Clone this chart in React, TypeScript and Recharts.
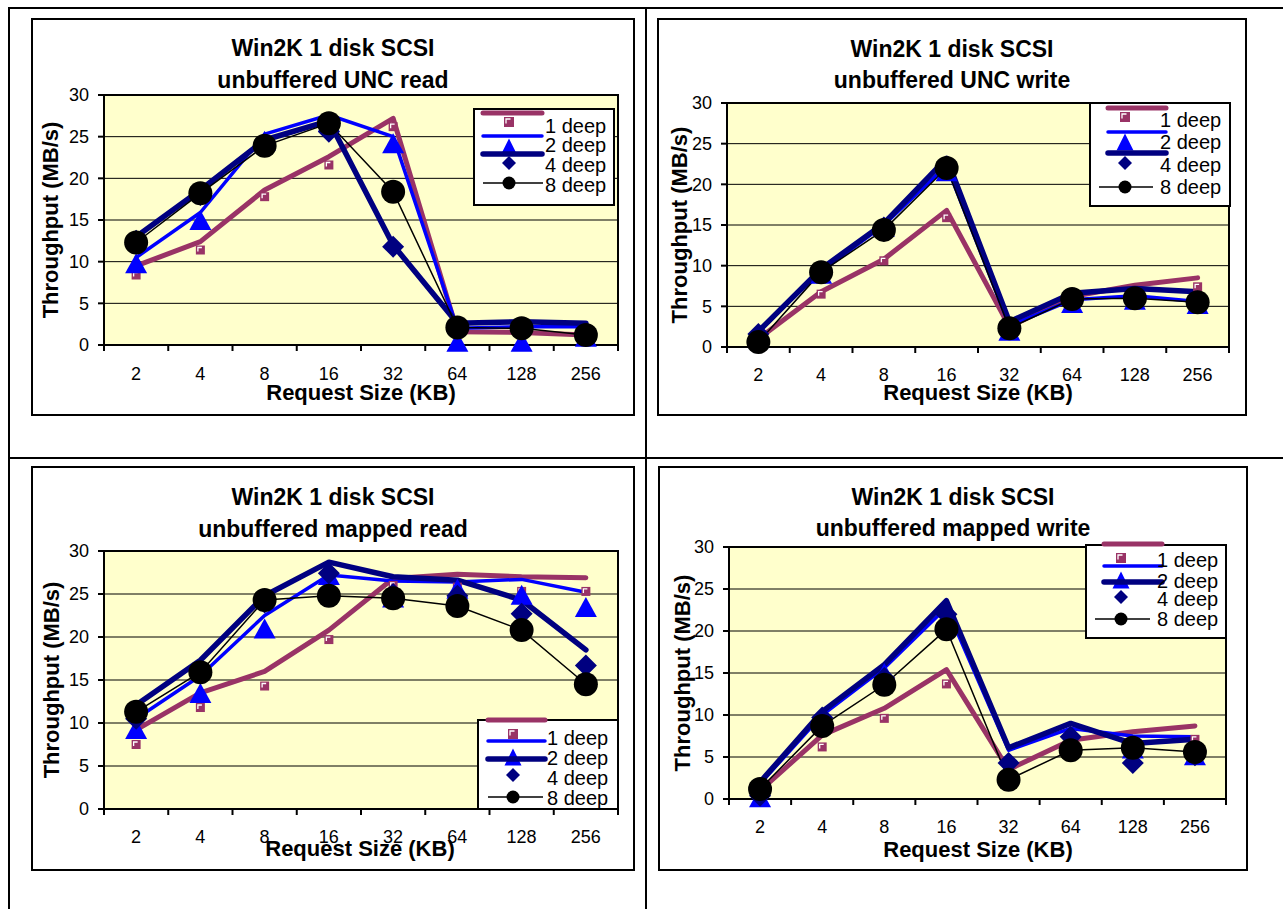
import React from 'react';
import { LineChart, Line, XAxis, YAxis, CartesianGrid } from 'recharts';

const FONT = 'Arial, "Liberation Sans", Helvetica, sans-serif';

const categories = ['2', '4', '8', '16', '32', '64', '128', '256'];
const yTicks = [0, 5, 10, 15, 20, 25, 30];
const seriesLabels = ['1 deep', '2 deep', '4 deep', '8 deep'];
const titleTop = 'Win2K 1 disk SCSI';
const xAxisTitle = 'Request Size (KB)';
const yAxisTitle = 'Throughput (MB/s)';

// unbuffered UNC read
const uncReadLine1 = [9.5, 12.4, 18.6, 22.6, 27.2, 1.6, 1.5, 1.2];
const uncReadMark1 = [8.4, 11.4, 17.8, 21.6, 26.2, 1.5, 1.4, 1.4];
const uncReadLine2 = [10.5, 15.9, 25.3, 27.6, 25.0, 2.0, 2.2, 2.2];
const uncReadMark2 = [9.8, 15.0, 24.5, 26.8, 24.2, 0.4, 0.4, 1.0];
const uncReadLine4 = [13.0, 18.6, 24.6, 26.9, 12.0, 2.6, 2.8, 2.6];
const uncReadMark4 = [12.5, 18.0, 24.0, 25.6, 11.8, 2.0, 2.0, 1.5];
const uncRead8 = [12.3, 18.2, 23.9, 26.6, 18.4, 2.1, 2.0, 1.2];

// unbuffered UNC write
const uncWriteLine1 = [1.0, 6.8, 10.8, 16.8, 2.5, 6.2, 7.6, 8.5];
const uncWriteMark1 = [0.5, 6.5, 10.6, 15.9, 2.0, 5.6, 6.0, 7.4];
const uncWriteLine2 = [2.0, 9.3, 15.0, 22.3, 2.6, 5.8, 6.3, 5.6];
const uncWriteMark2 = [1.6, 9.0, 14.8, 21.6, 2.0, 5.4, 5.8, 5.3];
const uncWriteLine4 = [1.9, 9.6, 15.2, 23.2, 3.1, 6.6, 7.2, 6.8];
const uncWriteMark4 = [1.6, 9.2, 14.7, 22.0, 2.3, 5.8, 6.0, 5.6];
const uncWrite8 = [0.6, 9.2, 14.4, 22.0, 2.3, 5.9, 6.0, 5.5];

// unbuffered mapped read
const mapReadLine1 = [9.2, 13.5, 16.0, 20.8, 26.8, 27.3, 27.0, 26.9];
const mapReadMark1 = [7.5, 11.8, 14.3, 19.7, 26.0, 25.8, 25.3, 25.3];
const mapReadLine2 = [10.5, 15.5, 22.5, 27.2, 26.5, 26.4, 26.7, 25.2];
const mapReadMark2 = [9.3, 13.5, 21.0, 27.2, 24.6, 25.6, 24.9, 23.5];
const mapReadLine4 = [12.1, 17.3, 24.8, 28.7, 27.0, 26.6, 24.3, 18.5];
const mapReadMark4 = [10.5, 16.0, 24.0, 27.4, 25.0, 24.8, 22.7, 16.7];
const mapRead8 = [11.3, 15.9, 24.3, 24.8, 24.5, 23.6, 20.8, 14.5];

// unbuffered mapped write
const mapWriteLine1 = [1.0, 7.6, 10.8, 15.4, 3.5, 7.0, 8.0, 8.7];
const mapWriteMark1 = [0.8, 6.2, 9.6, 13.7, 3.3, 6.2, 6.6, 7.1];
const mapWriteLine2 = [1.8, 10.0, 15.6, 22.8, 5.8, 8.4, 7.5, 7.4];
const mapWriteMark2 = [0.2, 9.3, 15.0, 21.5, 3.2, 6.6, 6.0, 5.2];
const mapWriteLine4 = [2.0, 10.4, 16.0, 23.6, 6.1, 9.0, 6.6, 7.1];
const mapWriteMark4 = [0.4, 9.7, 14.4, 22.0, 4.3, 7.4, 4.3, 5.2];
const mapWrite8 = [1.2, 8.7, 13.6, 20.2, 2.3, 5.8, 6.1, 5.6];

const MAROON = '#993366';
const BLUE = '#0000FF';
const NAVY = '#000080';
const BLACK = '#000000';
const PLOT_BG = '#FFFFCC';

const panels = [
  {
    id: 'ur', title2: 'unbuffered UNC read',
    l1: uncReadLine1, m1: uncReadMark1, l2: uncReadLine2, m2: uncReadMark2, l4: uncReadLine4, m4: uncReadMark4, v8: uncRead8,
    box: { x: 31, y: 18, w: 604, h: 398 },
    plot: { left: 104, right: 618, top: 95, bottom: 345 },
    titleX: 333, titleY: [56, 88], yTitle: { x: 50, y: 220 }, xTitle: { x: 361, y: 400 }, tickBase: 35,
    legend: { x: 474, y: 109, w: 140, h: 96, textX: 545, base: [133, 152, 172, 192], lineX: [483, 542], blackX: [483, 543], lineY: [113, 136, 154, 183], markX: 509, markY: [122, 147, 163, 183] },
  },
  {
    id: 'uw', title2: 'unbuffered UNC write',
    l1: uncWriteLine1, m1: uncWriteMark1, l2: uncWriteLine2, m2: uncWriteMark2, l4: uncWriteLine4, m4: uncWriteMark4, v8: uncWrite8,
    box: { x: 657, y: 18, w: 590, h: 398 },
    plot: { left: 727, right: 1229, top: 103, bottom: 347 },
    titleX: 952, titleY: [57, 88], yTitle: { x: 679, y: 225 }, xTitle: { x: 978, y: 400 }, tickBase: 34,
    legend: { x: 1090, y: 103, w: 140, h: 103, textX: 1160, base: [127, 149, 172, 194], lineX: [1108, 1166], blackX: [1099, 1153], lineY: [108, 132, 153, 187], markX: 1125, markY: [117, 142, 163, 187] },
  },
  {
    id: 'mr', title2: 'unbuffered mapped read',
    l1: mapReadLine1, m1: mapReadMark1, l2: mapReadLine2, m2: mapReadMark2, l4: mapReadLine4, m4: mapReadMark4, v8: mapRead8,
    box: { x: 31, y: 466, w: 604, h: 405 },
    plot: { left: 104, right: 618, top: 551, bottom: 809 },
    titleX: 333, titleY: [505, 537], yTitle: { x: 51, y: 680 }, xTitle: { x: 360, y: 856 }, tickBase: 34,
    legend: { x: 478, y: 720, w: 140, h: 89, textX: 547, base: [745, 765, 785, 805], lineX: [488, 545], blackX: [488, 543], lineY: [720, 741, 759, 797], markX: 513, markY: [734, 757, 775, 797] },
  },
  {
    id: 'mw', title2: 'unbuffered mapped write',
    l1: mapWriteLine1, m1: mapWriteMark1, l2: mapWriteLine2, m2: mapWriteMark2, l4: mapWriteLine4, m4: mapWriteMark4, v8: mapWrite8,
    box: { x: 658, y: 466, w: 590, h: 405 },
    plot: { left: 729, right: 1226, top: 547, bottom: 799 },
    titleX: 953, titleY: [505, 536], yTitle: { x: 682, y: 673 }, xTitle: { x: 978, y: 857 }, tickBase: 34,
    legend: { x: 1086, y: 545, w: 140, h: 93, textX: 1157, base: [567, 588, 606, 626], lineX: [1104, 1162], blackX: [1095, 1150], lineY: [544, 566, 582, 619], markX: 1121, markY: [558, 580, 597, 619] },
  },
];

function Marker({ kind, cx, cy, legend }: any) {
  if (kind === 'square') {
    const s = legend ? 5 : 4.5;
    return (
      <g>
        <rect x={cx - s} y={cy - s} width={2 * s} height={2 * s} fill={MAROON} />
        <path d={`M${cx - s + 2},${cy + 1.5} V${cy - s + 2} H${cx + 1.5}`} stroke="#fff" strokeWidth={1.3} fill="none" />
      </g>
    );
  }
  if (kind === 'triangle') {
    const hw = legend ? 8.5 : 11;
    const h = legend ? 17 : 20;
    return <polygon points={`${cx},${cy - h / 2} ${cx + hw},${cy + h / 2} ${cx - hw},${cy + h / 2}`} fill={BLUE} />;
  }
  if (kind === 'diamond') {
    const d = legend ? 7 : 11;
    return <polygon points={`${cx},${cy - d} ${cx + d},${cy} ${cx},${cy + d} ${cx - d},${cy}`} fill={NAVY} />;
  }
  const r = legend ? 6.5 : 12;
  return <circle cx={cx} cy={cy} r={r} fill={BLACK} />;
}

const dotRenderer = (kind: string) => (props: any) => {
  const { cx, cy, index } = props;
  if (cx == null || cy == null || Number.isNaN(cx) || Number.isNaN(cy)) return <g key={`e-${kind}-${index}`} />;
  return (
    <g key={`${kind}-${index}`}>
      <Marker kind={kind} cx={cx} cy={cy} />
    </g>
  );
};

function Panel({ p }: any) {
  const { box, plot } = p;
  const rows = categories.map((c, i) => ({
    cat: c, l1: p.l1[i], m1: p.m1[i], l2: p.l2[i], m2: p.m2[i], l4: p.l4[i], m4: p.m4[i], v8: p.v8[i],
  }));
  const plotW = plot.right - plot.left;
  const pad = plotW / 16;
  const cell = plotW / categories.length;
  const margin = { top: plot.top - box.y, right: box.x + box.w - plot.right, left: 0, bottom: 0 };
  const yAxisW = plot.left - box.x;
  const xAxisH = box.y + box.h - plot.bottom;
  const axisY = plot.bottom - box.y;
  const xTick = (props: any) => {
    const { x, payload, index } = props;
    const half = cell / 2;
    return (
      <g>
        <line x1={x - half} x2={x - half} y1={axisY} y2={axisY + 6} stroke="#000" strokeWidth={2} />
        {index === categories.length - 1 ? (
          <line x1={x + half} x2={x + half} y1={axisY} y2={axisY + 6} stroke="#000" strokeWidth={2} />
        ) : null}
        <text x={x} y={axisY + p.tickBase} textAnchor="middle" fontSize={18} fontFamily={FONT} fill="#000">
          {payload.value}
        </text>
      </g>
    );
  };
  const common = { isAnimationActive: false, activeDot: false, type: 'linear' as const, legendType: 'none' as const };
  return (
    <div style={{ position: 'absolute', left: box.x, top: box.y, width: box.w, height: box.h }}>
      <LineChart width={box.w} height={box.h} data={rows} margin={margin}>
        <CartesianGrid vertical={false} stroke="#000" strokeWidth={1} fill={PLOT_BG} fillOpacity={1} />
        <XAxis
          dataKey="cat" scale="point" padding={{ left: pad, right: pad }} height={xAxisH} interval={0}
          tickLine={false} tickSize={0} tickMargin={0} axisLine={{ stroke: '#000', strokeWidth: 2 }} tick={xTick}
        />
        <YAxis
          domain={[0, 30]} ticks={yTicks} interval={0} width={yAxisW} tickSize={6} tickMargin={9}
          tickLine={{ stroke: '#000', strokeWidth: 2 }} axisLine={{ stroke: '#000', strokeWidth: 2 }}
          tick={{ fill: '#000', fontSize: 18, fontFamily: FONT }}
        />
        <Line {...common} dataKey="l1" stroke={MAROON} strokeWidth={5} dot={false} strokeLinejoin="round" strokeLinecap="round" />
        <Line {...common} dataKey="m1" stroke="none" dot={dotRenderer('square')} />
        <Line {...common} dataKey="l2" stroke={BLUE} strokeWidth={3.5} dot={false} strokeLinejoin="round" strokeLinecap="round" />
        <Line {...common} dataKey="m2" stroke="none" dot={dotRenderer('triangle')} />
        <Line {...common} dataKey="l4" stroke={NAVY} strokeWidth={5.5} dot={false} strokeLinejoin="round" strokeLinecap="round" />
        <Line {...common} dataKey="m4" stroke="none" dot={dotRenderer('diamond')} />
        <Line {...common} dataKey="v8" stroke={BLACK} strokeWidth={1.5} dot={dotRenderer('circle')} />
      </LineChart>
    </div>
  );
}

function LegendBox({ lg }: any) {
  const colors = [MAROON, BLUE, NAVY, BLACK];
  const widths = [5, 3.5, 5.5, 1.5];
  const kinds = ['square', 'triangle', 'diamond', 'circle'];
  return (
    <g>
      <rect x={lg.x} y={lg.y} width={lg.w} height={lg.h} fill="#fff" stroke="#000" strokeWidth={2} />
      {seriesLabels.map((label, i) => {
        const xs = i === 3 ? lg.blackX : lg.lineX;
        return (
          <g key={label}>
            <line x1={xs[0]} x2={xs[1]} y1={lg.lineY[i]} y2={lg.lineY[i]} stroke={colors[i]} strokeWidth={widths[i]} strokeLinecap={i === 3 ? 'butt' : 'round'} />
            <Marker kind={kinds[i]} cx={lg.markX} cy={lg.markY[i]} legend />
          </g>
        );
      })}
      {seriesLabels.map((label, i) => (
        <text key={`t-${label}`} x={lg.textX} y={lg.base[i]} fontSize={20} fontFamily={FONT} fill="#000">
          {label}
        </text>
      ))}
    </g>
  );
}

export default function App() {
  return (
    <div style={{ position: 'absolute', left: 0, top: 0, width: 1283, height: 909, background: '#fff', overflow: 'hidden' }}>
      {panels.map((p) => (
        <Panel key={p.id} p={p} />
      ))}
      <svg width={1283} height={909} style={{ position: 'absolute', left: 0, top: 0, pointerEvents: 'none' }}>
        <rect x={8} y={7} width={1275} height={2} fill="#000" />
        <rect x={8} y={7} width={2} height={902} fill="#000" />
        <rect x={645} y={7} width={2} height={902} fill="#000" />
        <rect x={8} y={457} width={1275} height={2} fill="#000" />
        {panels.map((p) => (
          <g key={`o-${p.id}`}>
            <rect x={p.box.x + 1} y={p.box.y + 1} width={p.box.w - 2} height={p.box.h - 2} fill="none" stroke="#000" strokeWidth={2} />
            <line x1={p.plot.left} x2={p.plot.right + 1} y1={p.plot.top} y2={p.plot.top} stroke="#000" strokeWidth={2} />
            <line x1={p.plot.right} x2={p.plot.right} y1={p.plot.top} y2={p.plot.bottom} stroke="#000" strokeWidth={2} />
            <text x={p.titleX} y={p.titleY[0]} textAnchor="middle" fontSize={23} fontWeight="bold" fontFamily={FONT} fill="#000">{titleTop}</text>
            <text x={p.titleX} y={p.titleY[1]} textAnchor="middle" fontSize={23} fontWeight="bold" fontFamily={FONT} fill="#000">{p.title2}</text>
            <text x={p.xTitle.x} y={p.xTitle.y} textAnchor="middle" fontSize={22} fontWeight="bold" fontFamily={FONT} fill="#000">{xAxisTitle}</text>
            <text
              x={p.yTitle.x} y={p.yTitle.y} textAnchor="middle" dominantBaseline="central" fontSize={22} fontWeight="bold" fontFamily={FONT} fill="#000"
              transform={`rotate(-90 ${p.yTitle.x} ${p.yTitle.y})`}
            >
              {yAxisTitle}
            </text>
            <LegendBox lg={p.legend} />
          </g>
        ))}
      </svg>
    </div>
  );
}
